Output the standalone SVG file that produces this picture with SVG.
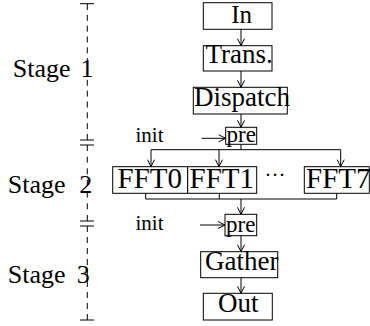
<svg xmlns="http://www.w3.org/2000/svg" width="370" height="326" viewBox="0 0 370 326">
<style>
text{font-family:"Liberation Serif","Times New Roman",serif;fill:#000}
.node rect{fill:#fff;stroke:#000;stroke-width:1}
.t{font-size:27px}
.f{font-size:29px}
.p{font-size:23px}
.s{font-size:26px}
.i{font-size:21px}
.c{fill:none;stroke:#000;stroke-width:1}
.d{fill:none;stroke:#000;stroke-width:1}
</style>
<defs>
<marker id="ah" markerUnits="userSpaceOnUse" markerWidth="10" markerHeight="10" viewBox="-8 -5 10 10" refX="0" refY="0" orient="auto">
<path d="M-7,-3.5 L0,0 L-7,3.5" fill="none" stroke="#000" stroke-width="1"/>
</marker>
</defs>

<g id="stages">
<line class="d" x1="87.3" y1="4" x2="87.3" y2="140" stroke-dasharray="6 4.83"/>
<line class="d" x1="87.3" y1="145" x2="87.3" y2="221" stroke-dasharray="6 5.67"/>
<line class="d" x1="87.3" y1="226" x2="87.3" y2="320" stroke-dasharray="6 5"/>
<path class="d" d="M80,3.7 H94 M80,140 H94 M80,145 H94 M80,221 H94 M80,226 H94 M80,320 H94"/>
<text class="s" y="77"><tspan x="12.8">Stage</tspan><tspan x="80.4">1</tspan></text>
<text class="s" y="192.5"><tspan x="7.8">Stage</tspan><tspan x="79.2">2</tspan></text>
<text class="s" y="282.7"><tspan x="7.8">Stage</tspan><tspan x="76.7">3</tspan></text>
</g>

<g id="node-in" class="node">
<rect x="203.3" y="2.7" width="68.7" height="26.6"/>
<text x="241.7" y="22.5" text-anchor="middle" font-size="25">In</text>
</g>
<g id="node-trans" class="node">
<rect x="203.3" y="45.7" width="68.7" height="25.3"/>
<text class="t" x="205.5" y="63.3">Trans.</text>
</g>
<g id="node-dispatch" class="node">
<rect x="193.3" y="87.3" width="94" height="26.7"/>
<text class="t" x="194" y="106">Dispatch</text>
</g>
<g id="node-pre1" class="node">
<rect x="225.7" y="127.3" width="31" height="17"/>
<text class="p" x="226.5" y="141.7">pre</text>
</g>
<g id="node-init1">
<text class="i" x="135.5" y="142">init</text>
</g>
<g id="node-fft0" class="node">
<rect x="112.7" y="166.7" width="75" height="26.6"/>
<text class="f" x="117.5" y="188.3">FFT0</text>
</g>
<g id="node-fft1" class="node">
<rect x="187.7" y="166.7" width="69" height="26.6"/>
<text class="f" x="189.5" y="188.3">FFT1</text>
</g>
<g id="node-dots">
<text x="275" y="182" text-anchor="middle" font-size="21">···</text>
</g>
<g id="node-fft7" class="node">
<rect x="304.3" y="166.7" width="65" height="26.6"/>
<text class="f" x="306" y="188.3">FFT7</text>
</g>
<g id="node-pre2" class="node">
<rect x="225" y="214.3" width="31.7" height="21.4"/>
<text class="p" x="226" y="231.7">pre</text>
</g>
<g id="node-init2">
<text class="i" x="135.5" y="230">init</text>
</g>
<g id="node-gather" class="node">
<rect x="200.7" y="251.7" width="77" height="26"/>
<text class="t" x="205" y="270">Gather</text>
</g>
<g id="node-out" class="node">
<rect x="203.3" y="293.3" width="69" height="26.7"/>
<text class="t" x="218" y="311.7">Out</text>
</g>

<g id="connectors">
<line class="c" x1="241" y1="29.3" x2="241" y2="45.7" marker-end="url(#ah)"/>
<line class="c" x1="241" y1="71" x2="241" y2="87.3" marker-end="url(#ah)"/>
<line class="c" x1="241" y1="114" x2="241" y2="127.3" marker-end="url(#ah)"/>
<line class="c" x1="201.7" y1="138.3" x2="225.7" y2="138.3" marker-end="url(#ah)"/>
<path class="c" d="M241,144.3 V149.7 M151,149.7 H340.7"/>
<line class="c" x1="151" y1="149.7" x2="151" y2="166.7" marker-end="url(#ah)"/>
<line class="c" x1="219" y1="149.7" x2="219" y2="166.7" marker-end="url(#ah)"/>
<line class="c" x1="340.7" y1="149.7" x2="340.7" y2="166.7" marker-end="url(#ah)"/>
<path class="c" d="M145.7,193.3 V199 M219.3,193.3 V199 M336.7,193.3 V199 M145.7,199 H336.7"/>
<line class="c" x1="241" y1="199" x2="241" y2="214.3" marker-end="url(#ah)"/>
<line class="c" x1="200" y1="225" x2="225" y2="225" marker-end="url(#ah)"/>
<line class="c" x1="241" y1="235.7" x2="241" y2="251.7" marker-end="url(#ah)"/>
<line class="c" x1="241" y1="277.7" x2="241" y2="293.3" marker-end="url(#ah)"/>
</g>
</svg>
